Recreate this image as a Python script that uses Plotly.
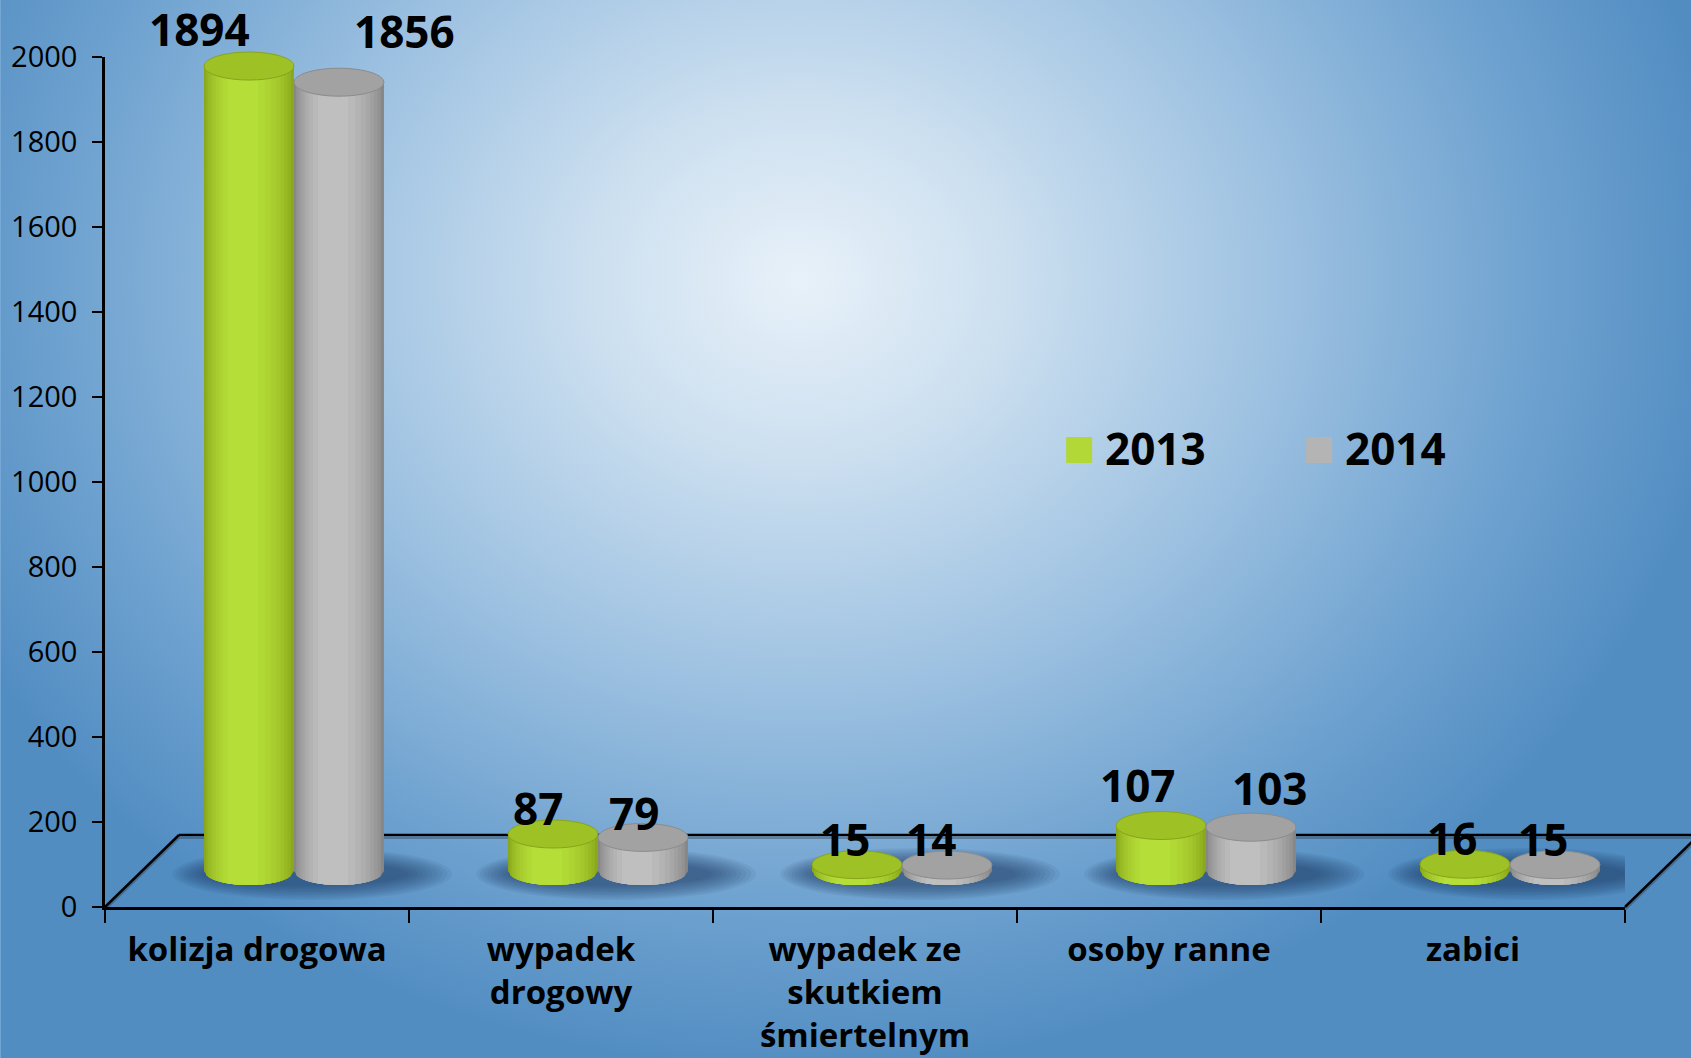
import base64
import numpy as np
import plotly.graph_objects as go

# ---------------- data ----------------
categories = ["kolizja drogowa", "wypadek<br>drogowy", "wypadek ze<br>skutkiem<br>śmiertelnym",
              "osoby ranne", "zabici"]
series_names = ["2013", "2014"]
values_2013 = [1894, 87, 15, 107, 16]
values_2014 = [1856, 79, 14, 103, 15]
y_ticks = [0, 200, 400, 600, 800, 1000, 1200, 1400, 1600, 1800, 2000]

# label nudges (pixels), as placed in the original slide
label_dx_2013 = [-50, -15, -12, -24, -13]
label_dx_2014 = [66, -9, -16, 19, -12]
label_dy_2013 = [5, -6, -6, 9, -6]
label_dy_2014 = [19, -8, -6, 7, -6]

# ---------------- geometry (pixels) ----------------
W, H = 1691, 1058
L, R = 104.6, 1625.0          # plot area left/right
T, B = 10.0, 907.0            # plot area top/bottom
Wp, Hp = R - L, B - T
Y_TOP = 57.0                  # pixel of the 2000 tick
YMAX = 2000
ppu = (B - Y_TOP) / YMAX      # pixels per value unit
DEPTH_DX, DEPTH_DY = 74.0, 72.0
cat_px = Wp / len(categories)
x2_shift = (DEPTH_DX / 2) / cat_px
y2_base = (DEPTH_DY / 2) / ppu
x2_range = [-0.5 - x2_shift, len(categories) - 0.5 - x2_shift]
y2_range = [-y2_base, Hp / ppu - y2_base]

BW = 0.296                    # bar width (category units)
EH = 14.0 / ppu               # half height of the cylinder ellipses
FONT = "'Open Sans', Lato, sans-serif"


def px_x(px):
    return (px - L) / Wp


def px_y(py):
    return (B - py) / Hp


def lerp_color(c0, c1, t):
    a = [int(c0[i:i + 2], 16) for i in (1, 3, 5)]
    b = [int(c1[i:i + 2], 16) for i in (1, 3, 5)]
    return "#" + "".join(f"{int(round(x + (y - x) * t)):02x}" for x, y in zip(a, b))


# ---------------- background (radial gradient) ----------------
svg = (
    "<svg xmlns='http://www.w3.org/2000/svg' width='1691' height='1058' viewBox='0 0 1691 1058' "
    "preserveAspectRatio='none'><defs>"
    "<radialGradient id='g' gradientUnits='userSpaceOnUse' cx='800' cy='280' r='930' "
    "gradientTransform='translate(800 280) scale(1 0.85) translate(-800 -280)'>"
    "<stop offset='0' stop-color='#e8f1f9'/>"
    "<stop offset='0.22' stop-color='#cde0f0'/>"
    "<stop offset='0.5' stop-color='#a0c3e2'/>"
    "<stop offset='0.8' stop-color='#6da1cf'/>"
    "<stop offset='1' stop-color='#528dc2'/>"
    "</radialGradient></defs>"
    "<rect x='0' y='0' width='1691' height='1058' fill='url(#g)'/></svg>"
)
bg_uri = "data:image/svg+xml;base64," + base64.b64encode(svg.encode()).decode()

# ---------------- cylinder shading (nested strips) ----------------
PEAK = 0.40
N_LEVELS = 9


def strips(edge, peak):
    out = []
    for k in range(N_LEVELS):
        lev = k / N_LEVELS
        s = np.sqrt(1 - lev)
        f0 = PEAK - PEAK * s
        f1 = PEAK + (1 - PEAK) * s
        out.append(((f0, f1), lerp_color(edge, peak, lev ** 0.8)))
    return out


series = [
    dict(name=series_names[0], values=values_2013, left=-BW, strips=strips("#8aa81b", "#b9e43b"),
         top="#9ec126", top_line="#88a41a", legend="#b2d838",
         label_dx=label_dx_2013, label_dy=label_dy_2013),
    dict(name=series_names[1], values=values_2014, left=0.0, strips=strips("#878787", "#c4c4c4"),
         top="#a2a2a2", top_line="#8c8c8c", legend="#b4b4b4",
         label_dx=label_dx_2014, label_dy=label_dy_2014),
]

fig = go.Figure()

# dummy trace for the visible category axis
fig.add_trace(go.Scatter(x=categories, y=[None] * len(categories), xaxis="x", yaxis="y",
                         mode="markers", showlegend=False, hoverinfo="skip"))

shapes = []
annotations = []
xs_idx = list(range(len(categories)))

# soft shadows under each pair of cylinders
N_SH = 10
for i in xs_idx:
    for k in range(N_SH):
        f = 1 - k / N_SH
        wl = 0.30 + 0.12 * f
        wr = 0.34 + 0.16 * f
        hpx = 10 + 16 * f
        cx = i + 0.02
        cy = -3.0 / ppu
        shapes.append(dict(type="circle", xref="x2", yref="y2", layer="below",
                           x0=cx - wl, x1=cx + wr, y0=cy - hpx / ppu, y1=cy + hpx / ppu,
                           fillcolor="rgba(25,55,95,0.075)", line=dict(width=0)))

for s in series:
    vals = s["values"]
    for (f0, f1), col in s["strips"]:
        fig.add_trace(go.Bar(
            x=xs_idx, y=vals, base=0, xaxis="x2", yaxis="y2",
            width=[(f1 - f0) * BW] * len(vals), offset=[s["left"] + f0 * BW] * len(vals),
            marker=dict(color=col, line=dict(width=0)),
            name=s["name"], showlegend=False, hoverinfo="skip"))
        # rounded bottom of each strip (following the base ellipse)
        for i in xs_idx:
            xl = i + s["left"]
            xc = xl + BW / 2
            a = BW / 2
            xa, xb = xl + f0 * BW, xl + f1 * BW
            pts = np.linspace(xa, xb, 24)
            ys = -EH * np.sqrt(np.clip(1 - ((pts - xc) / a) ** 2, 0, 1))
            path = f"M {xa},0 " + " ".join(f"L {px},{py}" for px, py in zip(pts, ys)) + f" L {xb},0 Z"
            shapes.append(dict(type="path", xref="x2", yref="y2", layer="below", path=path,
                               fillcolor=col, line=dict(width=0)))
    # top ellipse + data label
    for i, v, dx, dy in zip(xs_idx, vals, s["label_dx"], s["label_dy"]):
        xl = i + s["left"]
        shapes.append(dict(type="circle", xref="x2", yref="y2", layer="above",
                           x0=xl, x1=xl + BW, y0=v - EH, y1=v + EH,
                           fillcolor=s["top"], line=dict(color=s["top_line"], width=1)))
        annotations.append(dict(x=xl + BW / 2, y=v, xref="x2", yref="y2", text=str(v),
                                showarrow=False, yanchor="bottom", xanchor="center",
                                yshift=dy, xshift=dx,
                                font=dict(family=FONT, size=44, color="#000000", weight="bold")))

# floor (3D base) lines
floor_back_y = B - DEPTH_DY
for (xa, ya, xb, yb) in [(L + DEPTH_DX, floor_back_y, R + DEPTH_DX, floor_back_y),
                         (L, B, L + DEPTH_DX, floor_back_y),
                         (R, B, R + DEPTH_DX, floor_back_y)]:
    shapes.append(dict(type="line", xref="paper", yref="paper", x0=px_x(xa), y0=px_y(ya + 3),
                       x1=px_x(xb), y1=px_y(yb + 3), line=dict(color="rgba(40,50,60,0.35)", width=2),
                       layer="below"))
    shapes.append(dict(type="line", xref="paper", yref="paper", x0=px_x(xa), y0=px_y(ya),
                       x1=px_x(xb), y1=px_y(yb), line=dict(color="#000000", width=2.5), layer="below"))

# legend (manual, to match the large squares)
for s, sq_left, txt_left in [(series[0], 1066, 1103), (series[1], 1306, 1343)]:
    shapes.append(dict(type="rect", xref="paper", yref="paper",
                       x0=px_x(sq_left), x1=px_x(sq_left + 26), y0=px_y(463), y1=px_y(437),
                       fillcolor=s["legend"], line=dict(width=0)))
    annotations.append(dict(x=px_x(txt_left), y=px_y(448), xref="paper", yref="paper",
                            text=s["name"], showarrow=False, xanchor="left", yanchor="middle",
                            font=dict(family=FONT, size=44, color="#000000", weight="bold")))

fig.update_layout(
    width=W, height=H,
    margin=dict(l=L, r=W - R, t=T, b=H - B, pad=0, autoexpand=False),
    paper_bgcolor="#7fb0da",
    plot_bgcolor="rgba(0,0,0,0)",
    barmode="overlay",
    hovermode=False,
    showlegend=False,
    font=dict(family=FONT, color="#000000"),
    images=[dict(source=bg_uri, xref="paper", yref="paper",
                 x=-L / Wp, y=1 + T / Hp, sizex=W / Wp, sizey=H / Hp,
                 xanchor="left", yanchor="top", sizing="stretch", layer="below")],
    xaxis=dict(domain=[0, 1], anchor="y", type="category", categoryorder="array",
               categoryarray=categories, range=[-0.5, len(categories) - 0.5],
               showline=True, linecolor="#000000", linewidth=2.5, automargin=False,
               ticks="outside", tickson="boundaries", ticklen=13, tickwidth=2, tickcolor="#000000",
               showgrid=False, zeroline=False, ticklabelstandoff=12,
               tickfont=dict(family=FONT, size=33, color="#000000", weight="bold")),
    yaxis=dict(domain=[0, (B - Y_TOP) / Hp], anchor="x", range=[0, YMAX],
               tickvals=y_ticks, ticktext=[str(t) for t in y_ticks],
               showline=True, linecolor="#000000", linewidth=2.5, automargin=False,
               ticks="outside", ticklen=10, tickwidth=2, tickcolor="#000000",
               showgrid=False, zeroline=False, ticklabelstandoff=9,
               tickfont=dict(family=FONT, size=29, color="#000000")),
    xaxis2=dict(domain=[0, 1], anchor="y2", range=x2_range, visible=False, fixedrange=True),
    yaxis2=dict(domain=[0, 1], anchor="x2", range=y2_range, visible=False, fixedrange=True),
    shapes=shapes,
    annotations=annotations,
)

fig.write_html("out.html", config={"displayModeBar": False},
               post_script="document.body.style.margin='0px';document.body.style.overflow='hidden';")
